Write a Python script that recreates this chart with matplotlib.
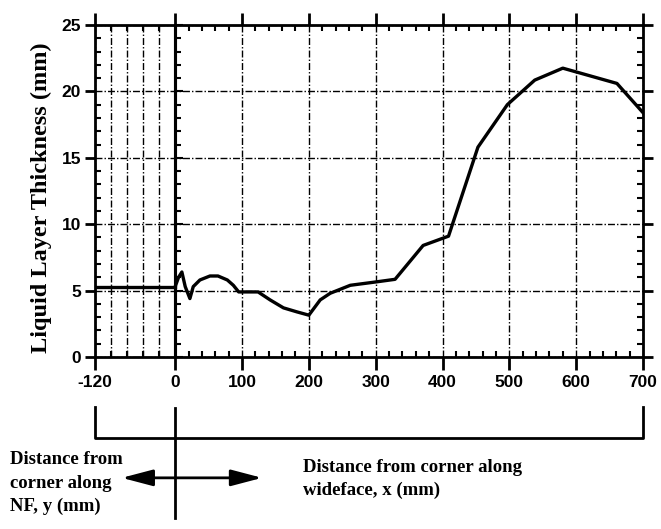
import numpy as np
import matplotlib
matplotlib.use('Agg')
import matplotlib.pyplot as plt
from matplotlib.ticker import FixedLocator, MultipleLocator

# Liquid layer thickness vs. distance from the corner
nf_x = [-120, 0]
nf_y = [5.3, 5.3]

wf_x = [0, 5, 10, 15, 22, 27, 37, 52, 64, 78, 87, 95, 110, 124, 142, 162, 182,
        200, 217, 232, 262, 300, 329, 371, 409, 453, 497, 538, 580, 661, 700]
wf_y = [5.3, 6.0, 6.4, 5.3, 4.4, 5.3, 5.8, 6.1, 6.1, 5.8, 5.4, 4.9, 4.9, 4.9,
        4.3, 3.7, 3.4, 3.15, 4.3, 4.8, 5.4, 5.65, 5.85, 8.4, 9.1, 15.8, 19.0,
        20.85, 21.75, 20.6, 18.4]

x_ticks = [-120, 0, 100, 200, 300, 400, 500, 600, 700]
x_ticklabels = ['-120', '0', '100', '200', '300', '400', '500', '600', '700']
nf_grid = [-96, -72, -48, -24]
y_ticks = [0, 5, 10, 15, 20, 25]

serif = 'Liberation Serif'
sans = 'Liberation Sans'

fig = plt.figure(figsize=(6.61, 5.29), dpi=100)
ax = fig.add_axes([95 / 661, 1 - 357 / 529, 548 / 661, 332 / 529])

grid_style = dict(color='black', linewidth=1.0, linestyle=(0, (5, 1.5, 1, 1.5)))
ax.grid(True, which='major', **grid_style)
for gx in nf_grid:
    ax.axvline(gx, **grid_style)
ax.axvline(0, color='black', linewidth=2.2)

ax.plot(nf_x, nf_y, color='black', linewidth=2.4, solid_joinstyle='round')
ax.plot(wf_x, wf_y, color='black', linewidth=2.4, solid_joinstyle='round')

ax.set_xlim(-120, 700)
ax.set_ylim(0, 25)

ax.xaxis.set_major_locator(FixedLocator(x_ticks))
ax.set_xticklabels(x_ticklabels)
ax.xaxis.set_minor_locator(FixedLocator(nf_grid + [v for v in range(20, 700, 20) if v % 100]))
ax.yaxis.set_major_locator(FixedLocator(y_ticks))
ax.yaxis.set_minor_locator(MultipleLocator(1))

ax.tick_params(axis='x', which='major', direction='out', length=9, width=2,
               top=True, bottom=True, pad=4)
ax.tick_params(axis='y', which='major', direction='out', length=7, width=2,
               left=True, right=True, pad=3)
ax.tick_params(which='minor', direction='in', length=4, width=1.5,
               top=True, bottom=True, left=True, right=True)
for lab in ax.get_xticklabels() + ax.get_yticklabels():
    lab.set_fontfamily(sans)
    lab.set_fontweight('bold')
    lab.set_fontsize(12.5)

for s in ax.spines.values():
    s.set_linewidth(2)

# tick marks along the corner line x = 0
sec = ax.secondary_yaxis(120 / 820)
sec.spines['left'].set_linewidth(2.2)
sec.yaxis.set_major_locator(FixedLocator(y_ticks))
sec.yaxis.set_minor_locator(MultipleLocator(1))
sec.tick_params(which='both', direction='in', labelleft=False, width=1.5)
sec.tick_params(which='major', length=6)
sec.tick_params(which='minor', length=4)

ax.set_ylabel('Liquid Layer Thickness (mm)', fontfamily=serif, fontweight='bold',
              fontsize=17.5)
ax.yaxis.set_label_coords(-0.078, 0.479)

# bracket and arrows below the axis
tr = ax.get_xaxis_transform()
line_kw = dict(color='black', linewidth=2, clip_on=False, transform=tr)
ax.plot([-120, -120, 700, 700], [-0.151, -0.244, -0.244, -0.151], **line_kw)
ax.plot([0, 0], [-0.154, -0.485], **line_kw)
ax.annotate('', xy=(-80, -0.364), xytext=(130, -0.364), xycoords=tr, textcoords=tr,
            arrowprops=dict(arrowstyle='<|-|>,head_length=1.9,head_width=0.5',
                            color='black', linewidth=2, shrinkA=0, shrinkB=0))

fig.text(10 / 661, 1 - 451 / 529, 'Distance from\ncorner along\nNF, y (mm)',
         fontfamily=serif, fontweight='bold', fontsize=13.5, va='top', ha='left',
         linespacing=1.5)
fig.text(303 / 661, 1 - 459 / 529, 'Distance from corner along\nwideface, x (mm)',
         fontfamily=serif, fontweight='bold', fontsize=13.5, va='top', ha='left',
         linespacing=1.4)

fig.savefig('out.png', dpi=100)
